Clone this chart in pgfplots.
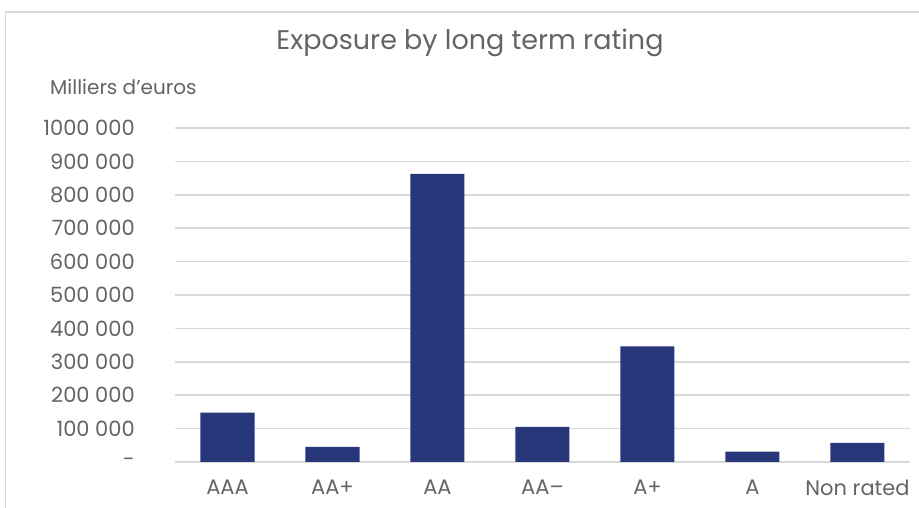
\documentclass[border=0pt]{standalone}
\usepackage{fontspec}
\setmainfont{Poppins}
\usepackage{pgfplots}
\pgfplotsset{compat=1.18}
\definecolor{barc}{RGB}{40,54,122}
\definecolor{txt}{RGB}{100,100,100}
\definecolor{gridc}{RGB}{217,217,217}
\begin{document}
\begin{tikzpicture}[x=1pt,y=1pt]
\useasboundingbox (0,0) rectangle (919,508);
\draw[gridc, line width=1.2pt] (5.5,0) -- (5.5,496) -- (919,496);
\begin{axis}[at={(175pt,46pt)}, anchor=south west, scale only axis,
  width=735pt, height=334pt,
  xmin=-0.5, xmax=6.5, ymin=0, ymax=1000000,
  axis line style={draw=none},
  ybar, bar width=54pt,
  scaled y ticks=false,
  ytick={0,100000,200000,300000,400000,500000,600000,700000,800000,900000,1000000},
  yticklabels={-,100 000,200 000,300 000,400 000,500 000,600 000,700 000,800 000,900 000,1000 000},
  xtick={0,1,2,3,4,5,6},
  xticklabels={AAA,AA+,AA,AA–,A+,A,Non rated},
  ymajorgrids, grid style={gridc, line width=1.5pt},
  major tick length=0pt,
  tick label style={font=\fontsize{21}{21}\selectfont, text=txt},
  yticklabel style={anchor=east, inner sep=0pt, xshift=-40pt},
  xticklabel style={anchor=north, inner sep=0pt, yshift=-18pt},
]
\addplot[fill=barc, draw=none, bar shift=0pt] coordinates {
(0,148000) (1,45000) (2,863000) (3,105000) (4,346000) (5,31000) (6,57000)};
\end{axis}
\node[txt, font=\fontsize{27}{27}\selectfont] at (470,465) {Exposure by long term rating};
\node[txt, font=\fontsize{20}{20}\selectfont, anchor=west, inner sep=0pt] at (50,421) {Milliers d’euros};
\end{tikzpicture}
\end{document}
